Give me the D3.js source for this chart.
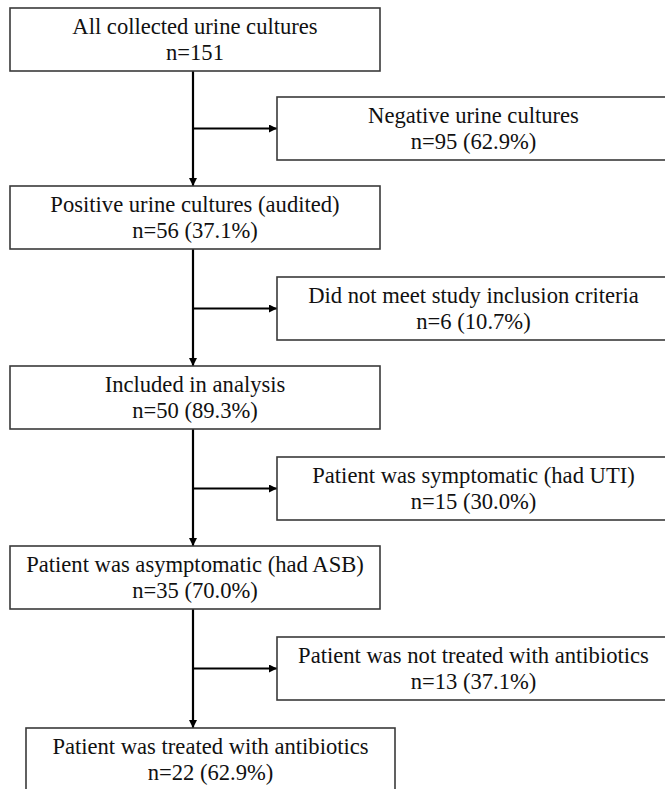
<!DOCTYPE html>
<html>
<head>
<meta charset="utf-8">
<script src="https://cdn.jsdelivr.net/npm/d3@7"></script>
<style>
  html, body { margin: 0; padding: 0; background: #fff; }
  svg { display: block; }
</style>
</head>
<body>
<svg id="chart"></svg>
<script>
(function() {

    // Main flow (left column).
    const mainLabels = [
        'All collected urine cultures',
        'Positive urine cultures (audited)',
        'Included in analysis',
        'Patient was asymptomatic (had ASB)',
        'Patient was treated with antibiotics'
    ];
    const mainCounts = [151, 56, 50, 35, 22];
    const mainPercents = [null, 37.1, 89.3, 70.0, 62.9];

    // Excluded branches (right column).
    const sideLabels = [
        'Negative urine cultures',
        'Did not meet study inclusion criteria',
        'Patient was symptomatic (had UTI)',
        'Patient was not treated with antibiotics'
    ];
    const sideCounts = [95, 6, 15, 13];
    const sidePercents = [62.9, 10.7, 30.0, 37.1];

    const w = 665;
    const h = 789;
    const boxH = 63;
    const stemX = 193;

    // Row position: main boxes on whole steps, branches half way between.
    const y = d3.scaleLinear()
        .domain([0, mainLabels.length - 1])
        .range([8, 728]);

    const nLabel = (c, p) => p === null ? `n=${ c }` : `n=${ c } (${ p.toFixed(1) }%)`;

    const mainBoxes = mainLabels.map((name, i) => ({
        name,
        line2: nLabel(mainCounts[i], mainPercents[i]),
        x0: i === mainLabels.length - 1 ? 26 : 10,
        x1: i === mainLabels.length - 1 ? 395 : 380,
        y0: Math.round(y(i) - (i > 0 && i < mainLabels.length - 1 ? 2 : 0))
    }));

    const sideBoxes = sideLabels.map((name, i) => ({
        name,
        line2: nLabel(sideCounts[i], sidePercents[i]),
        x0: 277,
        x1: 670,
        y0: Math.round(y(i + 0.5) - 1)
    }));

    const svg = d3.select('#chart')
        .attr('width', w)
        .attr('height', h);

    svg.append('defs').append('marker')
        .attr('id', 'arrow')
        .attr('viewBox', '0 0 10 10')
        .attr('refX', 10)
        .attr('refY', 5)
        .attr('markerUnits', 'userSpaceOnUse')
        .attr('markerWidth', 9)
        .attr('markerHeight', 8)
        .attr('orient', 'auto')
        .append('path')
        .attr('d', 'M0,0 L10,5 L0,10 Z')
        .attr('fill', '#000');

    // Connectors.
    const links = svg.append('g')
        .attr('stroke', '#000')
        .attr('stroke-width', 2.2)
        .attr('fill', 'none');

    mainBoxes.slice(1).forEach((b, i) => {
        const prev = mainBoxes[i];
        links.append('line')
            .attr('x1', stemX).attr('y1', prev.y0 + boxH)
            .attr('x2', stemX).attr('y2', b.y0)
            .attr('marker-end', 'url(#arrow)');
        const side = sideBoxes[i];
        const midY = side.y0 + boxH / 2;
        links.append('line')
            .attr('x1', stemX).attr('y1', midY)
            .attr('x2', side.x0).attr('y2', midY)
            .attr('marker-end', 'url(#arrow)');
    });

    // Boxes.
    const node = svg.selectAll('g.box')
        .data(mainBoxes.concat(sideBoxes))
        .enter()
        .append('g')
        .attr('class', 'box')
        .attr('transform', d => `translate(${ d.x0 }, ${ d.y0 })`);

    node.append('rect')
        .attr('width', d => d.x1 - d.x0)
        .attr('height', boxH)
        .attr('fill', '#fff')
        .attr('stroke', '#3a3a3a')
        .attr('stroke-width', 1.6);

    node.append('text')
        .attr('text-anchor', 'middle')
        .attr('font-family', '"Liberation Serif", "Times New Roman", serif')
        .attr('font-size', 22.6)
        .attr('fill', '#111')
        .selectAll('tspan')
        .data(d => [d.name, d.line2].map(t => ({ t, cx: (d.x1 - d.x0) / 2 })))
        .enter()
        .append('tspan')
        .attr('x', d => d.cx)
        .attr('y', (d, i) => 26 + i * 25.5)
        .text(d => d.t);

})();
</script>
</body>
</html>
